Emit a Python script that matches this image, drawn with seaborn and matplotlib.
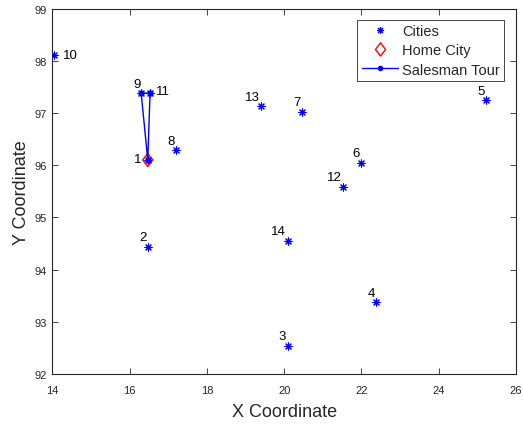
import matplotlib
matplotlib.use("Agg")
import matplotlib.pyplot as plt
import seaborn as sns
import pandas as pd
from matplotlib.lines import Line2D
from matplotlib.path import Path

# Data (burma14-like coordinates)
city_ids = [1, 2, 3, 4, 5, 6, 7, 8, 9, 10, 11, 12, 13, 14]
city_x = [16.47, 16.47, 20.09, 22.39, 25.23, 22.00, 20.47, 17.20, 16.30, 14.05, 16.53, 21.52, 19.41, 20.09]
city_y = [96.10, 94.44, 92.54, 93.37, 97.24, 96.05, 97.02, 96.29, 97.38, 98.12, 97.38, 95.59, 97.13, 94.55]
home_city = 1
tour_order = [1, 9, 11, 1]

x_ticks = [14, 16, 18, 20, 22, 24, 26]
y_ticks = [92, 93, 94, 95, 96, 97, 98, 99]

sns.set_theme(style="white")
plt.rcParams['font.family'] = ['Liberation Sans', 'DejaVu Sans']

cities = pd.DataFrame({"id": city_ids, "x": city_x, "y": city_y})
tour = pd.DataFrame({
    "x": [city_x[city_ids.index(c)] for c in tour_order],
    "y": [city_y[city_ids.index(c)] for c in tour_order],
    "step": range(len(tour_order)),
})
home = cities[cities["id"] == home_city]

fig = plt.figure(figsize=(5.23, 4.27), dpi=100)
ax = fig.add_axes([0.100, 0.1218, 0.8866, 0.8557])

blue = (0, 0, 1)
red = (1, 0, 0)
axcol = "#262626"

diamond = Path([(0, 1), (0.77, 0), (0, -1), (-0.77, 0), (0, 1)],
               [Path.MOVETO, Path.LINETO, Path.LINETO, Path.LINETO, Path.CLOSEPOLY])
asterisk = (8, 2, 0)

sns.scatterplot(data=cities, x="x", y="y", ax=ax, marker=asterisk, s=26,
                color=blue, edgecolor=blue, linewidth=0.8, legend=False, zorder=3)
sns.scatterplot(data=home, x="x", y="y", ax=ax, marker=diamond, s=90,
                facecolor="none", edgecolor=red, linewidth=1.0, legend=False, zorder=4)
sns.lineplot(data=tour, x="x", y="y", ax=ax, sort=False, estimator=None,
             color=blue, linewidth=1.0, marker="o", markersize=3.6,
             markeredgecolor=blue, legend=False, zorder=5)

# label placement (style): offsets in points and alignment
label_style = {
    1: ((-4.5, 0.5), "right", "center"),
    9: ((0, 2.5), "right", "bottom"),
    10: ((6, 0), "left", "center"),
    11: ((4, 1.5), "left", "center"),
}
for cid, cx, cy in zip(city_ids, city_x, city_y):
    off, ha, va = label_style.get(cid, ((-1, 2.5), "right", "bottom"))
    ax.annotate(str(cid), (cx, cy), xytext=off, textcoords="offset points",
                ha=ha, va=va, fontsize=9.5, color="black", zorder=6)

ax.set_xlim(14, 26)
ax.set_ylim(92, 99)
ax.set_xticks(x_ticks)
ax.set_yticks(y_ticks)
ax.set_xlabel("X Coordinate", fontsize=13, color=axcol, labelpad=6)
ax.set_ylabel("Y Coordinate", fontsize=13, color=axcol, labelpad=3)
ax.tick_params(direction="in", length=4, width=0.6, colors=axcol, labelsize=8,
               top=True, right=True, bottom=True, left=True)
ax.tick_params(axis="x", pad=8)
ax.tick_params(axis="y", pad=4)
for sp in ax.spines.values():
    sp.set_color(axcol)
    sp.set_linewidth(0.8)

handles = [
    Line2D([], [], linestyle="none", marker=asterisk, markersize=5,
           color=blue, markeredgecolor=blue, markeredgewidth=0.8),
    Line2D([], [], linestyle="none", marker=diamond, markersize=9.5,
           markerfacecolor="none", markeredgecolor=red, markeredgewidth=1.0),
    Line2D([], [], color=blue, linewidth=1.0, marker="o", markersize=3),
]
leg = ax.legend(handles, ["Cities", "Home City", "Salesman Tour"], loc="upper right",
                bbox_to_anchor=(0.974, 0.969), fontsize=10.5, frameon=True, fancybox=False,
                edgecolor=axcol, framealpha=1, borderpad=0.3, labelspacing=0.35,
                handlelength=2.5, handletextpad=0.25, borderaxespad=0)
leg.get_frame().set_linewidth(0.6)

fig.savefig("out.png", dpi=100)
